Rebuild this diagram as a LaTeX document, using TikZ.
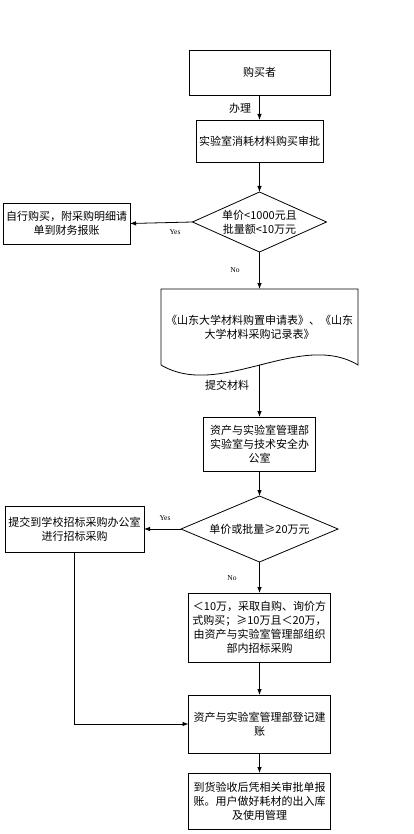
\documentclass[tikz,border=0pt]{standalone}
\usepackage{fontspec}
\setmainfont{Liberation Serif}
\newfontfamily\cjk{Noto Sans CJK SC}
\usetikzlibrary{arrows.meta}
\begin{document}
\begin{tikzpicture}[x=1pt,y=-1pt,
  every node/.style={inner sep=0pt, outer sep=0pt},
  box/.style={draw, line width=0.8pt, align=center, font=\cjk\fontsize{11}{14}\selectfont},
  hidden/.style={align=center, font=\cjk\fontsize{11}{14}\selectfont},
  lbl/.style={font=\cjk\fontsize{11}{13}\selectfont},
  yn/.style={font=\fontsize{7.5}{9}\selectfont},
  shp/.style={draw, line width=0.8pt},
  arr/.style={line width=0.8pt, -{Latex[length=6pt,width=4.5pt]}},
  ln/.style={line width=0.8pt}]
\useasboundingbox (0,0) rectangle (414,834);

\node[box, minimum width=141pt, minimum height=45pt] (b1) at (259.5,72.5) {购买者};
\node[box, minimum width=127pt, minimum height=42pt] (b2) at (259.5,141) {实验室消耗材料购买审批};
\node[hidden, minimum width=134pt, minimum height=60pt] (d1) at (259.5,222) {单价<1000元且\\批量额<10万元};
\draw[shp] (d1.north) -- (d1.east) -- (d1.south) -- (d1.west) -- cycle;
\node[box, minimum width=127pt, minimum height=41pt] (l1) at (66.5,223.5) {自行购买，附采购明细请\\单到财务报账};

\node[hidden, minimum width=197pt, minimum height=76pt] (doc) at (259.5,327) {《山东大学材料购置申请表》、《山东\\大学材料采购记录表》};
\draw[shp] (doc.south west) -- (doc.north west) -- (doc.north east) -- (doc.south east)
  .. controls (300,330) and (220,400) .. (doc.south west);
\coordinate (docb) at (259.5,365);

\node[box, minimum width=112pt, minimum height=54pt] (b3) at (259.5,444) {资产与实验室管理部\\实验室与技术安全办\\公室};
\node[hidden, minimum width=157pt, minimum height=66pt] (d2) at (259.5,529) {单价或批量≥20万元};
\draw[shp] (d2.north) -- (d2.east) -- (d2.south) -- (d2.west) -- cycle;
\node[box, minimum width=139pt, minimum height=46pt] (l2) at (74.5,529) {提交到学校招标采购办公室\\进行招标采购};

\node[box, minimum width=142pt, minimum height=69pt] (b4) at (259.5,627.5) {＜10万，采取自购、询价方\\式购买；≥10万且＜20万，\\由资产与实验室管理部组织\\部内招标采购};
\node[box, minimum width=142pt, minimum height=58pt] (b5) at (259.5,724) {资产与实验室管理部登记建\\账};
\node[box, minimum width=142pt, minimum height=56pt] (b6) at (259.5,801) {到货验收后凭相关审批单报\\账。用户做好耗材的出入库\\及使用管理};

\draw[arr] (b1.south) -- (b2.north);
\draw[arr] (b2.south) -- (d1.north);
\draw[arr] (d1.west) -- (l1.east);
\draw[arr] (d1.south) -- (doc.north);
\draw[arr] (docb) -- (b3.north);
\draw[arr] (b3.south) -- (d2.north);
\draw[arr] (d2.west) -- (l2.east);
\draw[arr] (d2.south) -- (b4.north);
\draw[arr] (b4.south) -- (b5.north);
\draw[arr] (l2.south) |- (b5.west);
\draw[arr] (b5.south) -- (b6.north);

\node[lbl] (t1) at (240,108) {办理};
\node[yn] (t2) at (175,232) {Yes};
\node[yn] (t3) at (235,270) {No};
\node[lbl] (t4) at (227,385) {提交材料};
\node[yn] (t5) at (165,518) {Yes};
\node[yn] (t6) at (232,578) {No};
\end{tikzpicture}
\end{document}
